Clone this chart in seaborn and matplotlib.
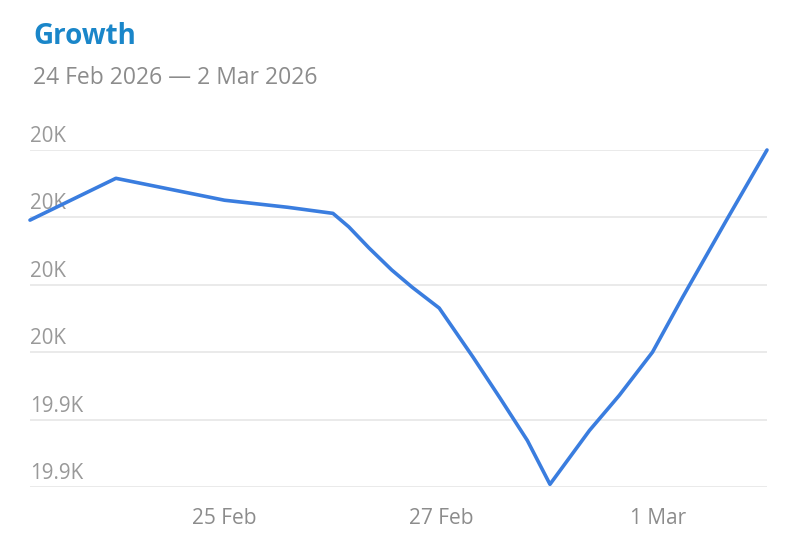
import matplotlib
matplotlib.use("Agg")
import matplotlib.pyplot as plt
import matplotlib.transforms as mtransforms
import seaborn as sns
import pandas as pd

title = "Growth"
subtitle = "24 Feb 2026 \u2014 2 Mar 2026"

times = [
    "2026-02-23 05:00", "2026-02-24 00:00", "2026-02-25 00:00", "2026-02-25 14:00",
    "2026-02-26 00:00", "2026-02-26 03:30", "2026-02-26 08:00", "2026-02-26 13:00",
    "2026-02-26 17:30", "2026-02-26 23:30", "2026-02-27 07:00", "2026-02-27 13:00",
    "2026-02-27 19:00", "2026-02-28 00:00", "2026-02-28 08:45", "2026-02-28 15:20",
    "2026-02-28 22:40", "2026-03-01 05:20", "2026-03-01 15:00", "2026-03-02 00:00",
]
values = [
    19999.2, 20011.6, 20005.1, 20003.0,
    20001.2, 19997.2, 19990.9, 19984.4,
    19979.3, 19973.1, 19958.5, 19946.3,
    19933.8, 19920.8, 19936.8, 19947.2,
    19960.0, 19976.3, 19999.1, 20020.0,
]
y_ticks = [19920, 19940, 19960, 19980, 20000, 20020]
y_tick_labels = ["19.9K", "19.9K", "20K", "20K", "20K", "20K"]
x_ticks = ["2026-02-25", "2026-02-27", "2026-03-01"]
x_tick_labels = ["25 Feb", "27 Feb", "1 Mar"]

df = pd.DataFrame({"time": pd.to_datetime(times), "value": values})

sns.set_theme(style="white")
plt.rcParams["font.family"] = ["Open Sans", "DejaVu Sans"]

fig = plt.figure(figsize=(8, 5.45), dpi=100)
ax = fig.add_axes([30 / 800, 1 - 487 / 545, (767 - 30) / 800, (487 - 150) / 545])

sns.lineplot(data=df, x="time", y="value", ax=ax, color="#3a7ddf",
             linewidth=2.6, clip_on=False, zorder=3)

ax.set_xlim(pd.Timestamp("2026-02-23 05:00"), pd.Timestamp("2026-03-02 00:00"))
ax.set_ylim(y_ticks[0], y_ticks[-1])
ax.set_yticks(y_ticks)
ax.set_yticklabels([])
ax.tick_params(axis="y", length=0)
ax.grid(axis="y", color="#e8e8e8", linewidth=1.3)
ax.grid(axis="x", visible=False)
for s in ["top", "right", "left", "bottom"]:
    ax.spines[s].set_visible(False)

ax.set_xticks(pd.to_datetime(x_ticks))
ax.set_xticklabels(x_tick_labels, fontsize=15, color="#8c8c8c")
ax.tick_params(axis="x", length=0, pad=15)
ax.set_xlabel("")
ax.set_ylabel("")

trans = mtransforms.blended_transform_factory(ax.transAxes, ax.transData)
offset = mtransforms.ScaledTranslation(0, 3 / 100, fig.dpi_scale_trans)
for v, lab in zip(y_ticks, y_tick_labels):
    ax.text(0, v, lab, transform=trans + offset, ha="left", va="bottom",
            fontsize=14.8, color="#999999", zorder=2)

fig.text(33 / 800, 1 - 44 / 545, title, fontsize=20, fontweight="bold",
         color="#1a86c9", ha="left", va="baseline")
fig.text(33 / 800, 1 - 84 / 545, subtitle, fontsize=16.5, color="#8c8c8c",
         ha="left", va="baseline")

fig.savefig("out.png", dpi=100)
